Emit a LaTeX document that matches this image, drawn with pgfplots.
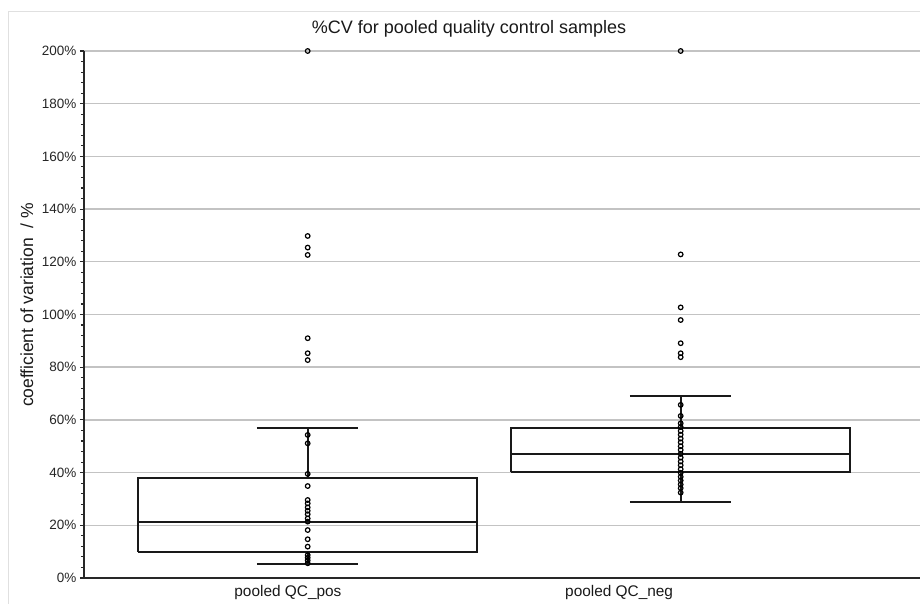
\documentclass[border=0pt]{standalone}
\usepackage{pgfplots}
\pgfplotsset{compat=1.18}
\usepackage{fontspec}
\setmainfont{Liberation Sans}
\definecolor{gridgray}{RGB}{195,195,195}
\definecolor{axisdark}{RGB}{40,40,40}
\begin{document}
\begin{tikzpicture}
\path[use as bounding box] (-84pt,-26pt) rectangle (836pt,578pt);
\draw[black!12, line width=0.8pt] (-76pt,-40pt) rectangle (850pt,567pt);
\begin{axis}[
  at={(0pt,0pt)}, anchor=south west,
  scale only axis, width=836pt, height=527pt,
  xmin=-0.5997, xmax=1.6416,
  ymin=0, ymax=200,
  clip=false,
  axis x line=bottom, axis y line=left,
  axis line style={-, axisdark, line width=1.7pt},
  ytick={0,20,...,200},
  minor y tick num=4,
  tick align=outside,
  major tick length=4pt, minor tick length=3pt,
  y tick style={axisdark, line width=1.1pt},
  x tick style={draw=none},
  ymajorgrids,
  grid style={gridgray, line width=1.4pt},
  /pgf/number format/assume math mode=true,
  yticklabel={\pgfmathprintnumber{\tick}\%},
  yticklabel style={font=\fontsize{13.5}{15}\selectfont, text=black!85},
  xtick={-0.053,0.835},
  xticklabels={pooled QC\_pos, pooled QC\_neg},
  xticklabel style={font=\fontsize{15.4}{17}\selectfont, text=black!90},
  ylabel={coefficient of variation\ \ / \%},
  ylabel style={at={(axis description cs:-0.0682,0.518)}, anchor=center, font=\fontsize{17.5}{19}\selectfont, text=black!90},
  boxline/.style={black!90, line width=1.9pt, mark=none},
]
% individual values (pooled QC_pos)
\addplot[only marks, mark=o, mark size=2.3pt, line width=1.2pt, black] coordinates {
 (0,200) (0,129.8) (0,125.4) (0,122.6) (0,91.0) (0,85.3) (0,82.7)
 (0,54.3) (0,51.1) (0,39.5) (0,34.9) (0,29.6) (0,28.3) (0,26.8) (0,25.5)
 (0,24.2) (0,22.6) (0,21.4) (0,18.2) (0,14.7) (0,11.9) (0,8.7) (0,7.7)
 (0,6.7) (0,5.6)
};
% individual values (pooled QC_neg)
\addplot[only marks, mark=o, mark size=2.3pt, line width=1.2pt, black] coordinates {
 (1,200) (1,122.8) (1,102.7) (1,97.9) (1,89.1) (1,85.3) (1,83.8)
 (1,65.7) (1,61.5) (1,58.7) (1,57.3) (1,55.8) (1,54.4) (1,52.9) (1,51.5)
 (1,50.0) (1,48.6) (1,47.1) (1,45.7) (1,44.2) (1,42.8) (1,41.3) (1,39.9)
 (1,38.4) (1,37.0) (1,35.5) (1,34.1) (1,32.4)
};
% box pooled QC_pos: whiskers 5.2 / 56.8, quartiles 9.75 / 37.8, median 21.4
\addplot[boxline] coordinates {(-0.454,9.75) (0.454,9.75) (0.454,37.8) (-0.454,37.8) (-0.454,9.75)};
\addplot[boxline] coordinates {(-0.454,21.4) (0.454,21.4)};
\addplot[boxline] coordinates {(0,37.8) (0,56.8)};
\addplot[boxline] coordinates {(0,9.75) (0,5.2)};
\addplot[boxline] coordinates {(-0.136,56.8) (0.136,56.8)};
\addplot[boxline] coordinates {(-0.136,5.2) (0.136,5.2)};
% box pooled QC_neg: whiskers 29.0 / 69.1, quartiles 40.1 / 56.8, median 47.1
\addplot[boxline] coordinates {(0.546,40.1) (1.454,40.1) (1.454,56.8) (0.546,56.8) (0.546,40.1)};
\addplot[boxline] coordinates {(0.546,47.1) (1.454,47.1)};
\addplot[boxline] coordinates {(1,56.8) (1,69.1)};
\addplot[boxline] coordinates {(1,40.1) (1,29.0)};
\addplot[boxline] coordinates {(0.864,69.1) (1.136,69.1)};
\addplot[boxline] coordinates {(0.864,29.0) (1.136,29.0)};
\end{axis}
\node[font=\fontsize{18}{21}\selectfont, text=black!90] at (385pt,549pt) {\%CV for pooled quality control samples};
\end{tikzpicture}
\end{document}
